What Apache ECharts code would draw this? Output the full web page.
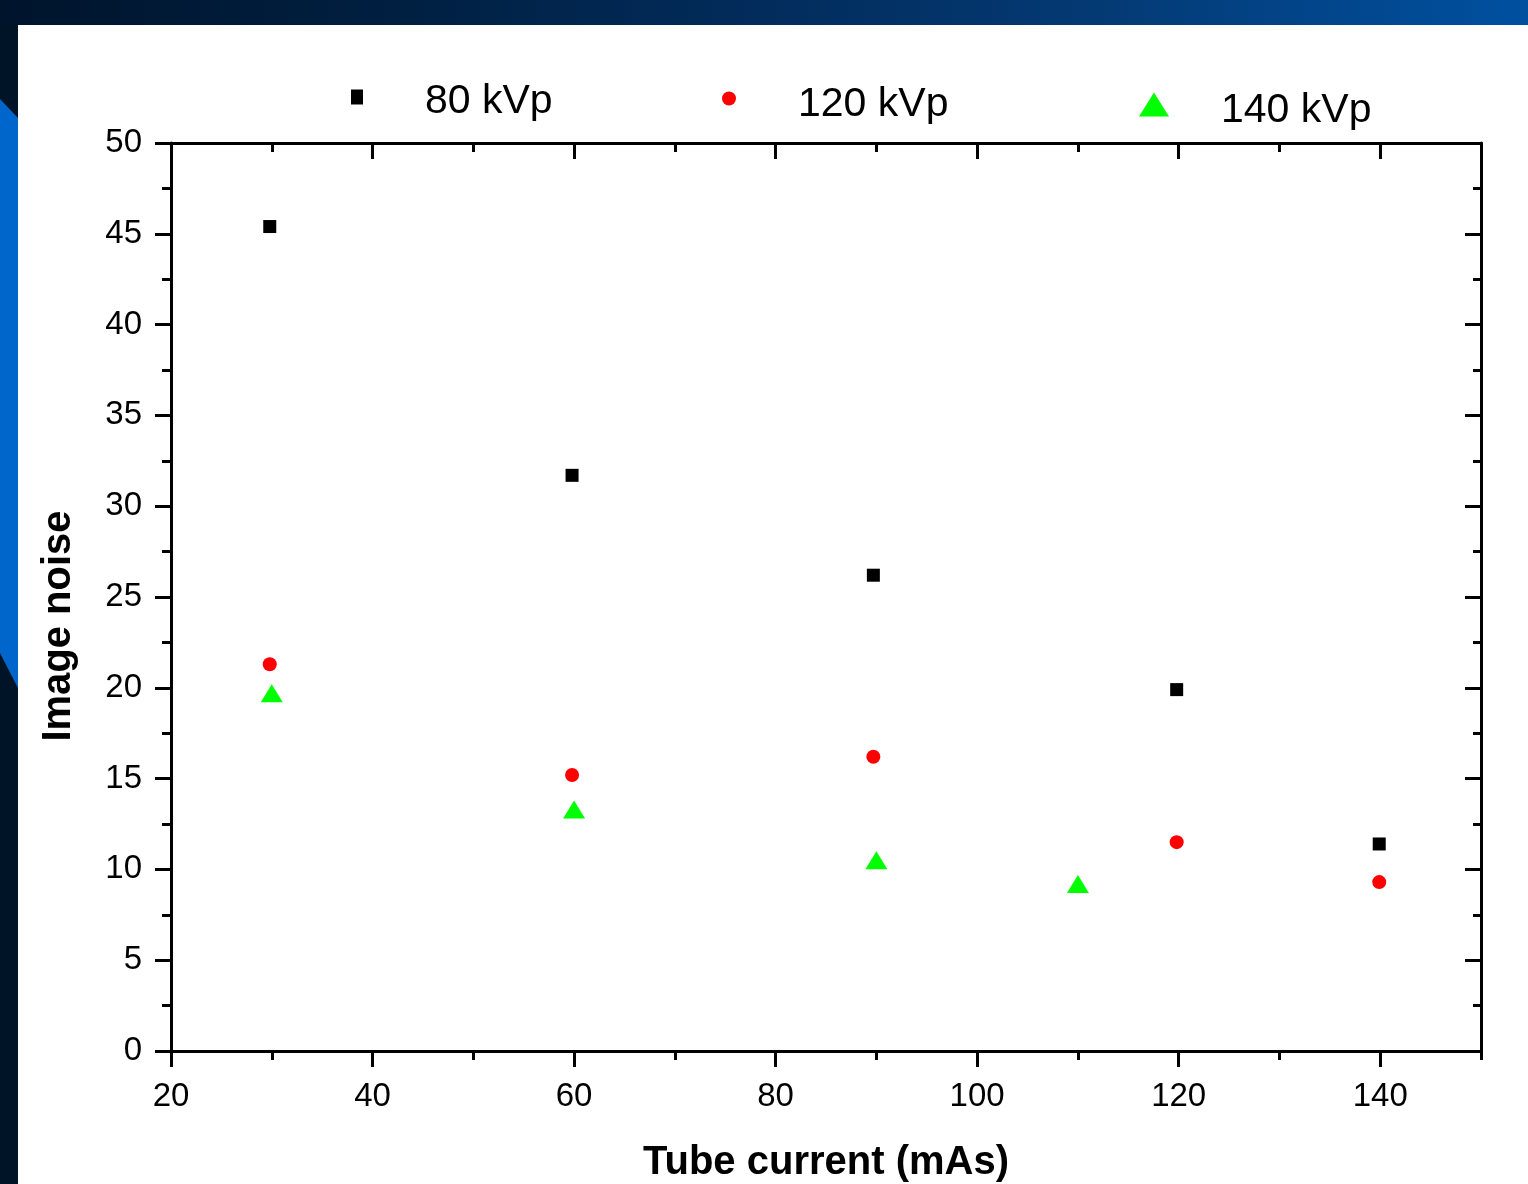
<!DOCTYPE html>
<html>
<head>
<meta charset="utf-8">
<script src="https://cdn.jsdelivr.net/npm/echarts@6/dist/echarts.min.js"></script>
<style>
  html, body { margin: 0; padding: 0; width: 1528px; height: 1184px; overflow: hidden; background: #001428; }
  #topband { position: absolute; left: 0; top: 0; width: 1528px; height: 25px;
    background: linear-gradient(to right, #00142c 0%, #001f40 25%, #022c5c 50%, #043a74 72%, #0050a0 100%); }
  #bluebar { position: absolute; left: 0; top: 0; width: 18px; height: 1184px; background: #0066cc;
    clip-path: polygon(0px 99px, 18px 118px, 18px 688px, 0px 653px); }
  #paper { position: absolute; left: 18px; top: 25px; width: 1510px; height: 1159px; background: #ffffff; }
  #chart { position: absolute; left: 0; top: 0; width: 1528px; height: 1184px; }
</style>
</head>
<body>
<div id="topband"></div>
<div id="bluebar"></div>
<div id="paper"></div>
<div id="chart"></div>
<script>
// ---- data ----
const seriesNames = ['80 kVp', '120 kVp', '140 kVp'];
const current80 = [29.8, 59.8, 89.7, 119.8, 139.9];
const noise80 = [45.4, 31.7, 26.2, 19.9, 11.4];
const current120 = [29.8, 59.8, 89.7, 119.8, 139.9];
const noise120 = [21.3, 15.2, 16.2, 11.5, 9.3];
const current140 = [30, 60, 90, 110];
const noise140 = [19.7, 13.3, 10.5, 9.2];
const xTitle = 'Tube current (mAs)';
const yTitle = 'Image noise';

function pairs(xs, ys) { return xs.map((x, i) => [x, ys[i]]); }

const FONT = '"Liberation Sans", Arial, sans-serif';
const AX = { color: '#000', width: 3 };

function legendFor(name, left, top, icon, w, h, gap, padTop) {
  return {
    data: [name], left: left, top: top, icon: icon, itemWidth: w, itemHeight: h,
    symbolKeepAspect: false,
    padding: 0, selectedMode: false,
    formatter: '{g| }{t|{name}}',
    textStyle: {
      color: '#000', fontFamily: FONT, fontSize: 41,
      rich: { g: { width: gap, fontSize: 10 },
              t: { fontSize: 41, lineHeight: 40, color: '#000', fontFamily: FONT, padding: [padTop, 0, 0, 0] } }
    }
  };
}

const chart = echarts.init(document.getElementById('chart'), null, { renderer: 'canvas' });
const option = {
  backgroundColor: 'transparent',
  animation: false,
  grid: { left: 171, top: 143, right: 47, bottom: 133, containLabel: false, outerBoundsMode: 'none' },
  legend: [
    legendFor(seriesNames[0], 351, 72, 'rect', 12, 15, 57, 9),
    legendFor(seriesNames[1], 722, 72, 'circle', 14, 17, 57, 12),
    legendFor(seriesNames[2], 1139, 78, 'triangle', 30, 24, 47, 12)
  ],
  xAxis: [
    { type: 'value', position: 'bottom', min: 20, max: 150, interval: 20,
      axisLine: { onZero: false, lineStyle: AX },
      axisTick: { length: 16, lineStyle: AX },
      axisLabel: { showMaxLabel: false, fontSize: 33, color: '#000', fontFamily: FONT, margin: 29 },
      splitLine: { show: false },
      name: xTitle, nameLocation: 'middle', nameGap: 92,
      nameTextStyle: { fontSize: 40, fontWeight: 'bold', color: '#000', fontFamily: FONT } },
    { type: 'value', position: 'bottom', min: 20, max: 150, interval: 10,
      axisLine: { show: false, onZero: false }, axisTick: { length: 9, lineStyle: AX },
      axisLabel: { show: false }, splitLine: { show: false } },
    { type: 'value', position: 'top', min: 20, max: 150, interval: 20,
      axisLine: { onZero: false, lineStyle: AX }, axisTick: { inside: true, length: 16, lineStyle: AX },
      axisLabel: { show: false }, splitLine: { show: false } },
    { type: 'value', position: 'top', min: 20, max: 150, interval: 10,
      axisLine: { show: false, onZero: false }, axisTick: { inside: true, length: 9, lineStyle: AX },
      axisLabel: { show: false }, splitLine: { show: false } }
  ],
  yAxis: [
    { type: 'value', position: 'left', min: 0, max: 50, interval: 5,
      axisLine: { onZero: false, lineStyle: AX },
      axisTick: { length: 16, lineStyle: AX },
      minorTick: { show: true, splitNumber: 2, length: 9, lineStyle: AX },
      axisLabel: { fontSize: 33, color: '#000', fontFamily: FONT, margin: 29 },
      splitLine: { show: false }, minorSplitLine: { show: false },
      name: yTitle, nameLocation: 'middle', nameGap: 92, nameRotate: 90,
      nameTextStyle: { fontSize: 40, fontWeight: 'bold', color: '#000', fontFamily: FONT, padding: [0, 58, 0, 0] } },
    { type: 'value', position: 'right', min: 0, max: 50, interval: 5,
      axisLine: { onZero: false, lineStyle: AX },
      axisTick: { inside: true, length: 16, lineStyle: AX },
      minorTick: { show: true, splitNumber: 2, length: 8, lineStyle: AX },
      axisLabel: { show: false }, splitLine: { show: false }, minorSplitLine: { show: false } }
  ],
  series: [
    { name: seriesNames[0], type: 'scatter', xAxisIndex: 0, yAxisIndex: 0,
      symbol: 'rect', symbolSize: 13, itemStyle: { color: '#000000', opacity: 1 },
      data: pairs(current80, noise80) },
    { name: seriesNames[1], type: 'scatter', xAxisIndex: 0, yAxisIndex: 0,
      symbol: 'circle', symbolSize: 14, itemStyle: { color: '#ff0000', opacity: 1 },
      data: pairs(current120, noise120) },
    { name: seriesNames[2], type: 'scatter', xAxisIndex: 0, yAxisIndex: 0,
      symbol: 'triangle', symbolSize: [22, 18], itemStyle: { color: '#00ff00', opacity: 1 },
      data: pairs(current140, noise140) }
  ]
};
chart.setOption(option);
</script>
</body>
</html>
